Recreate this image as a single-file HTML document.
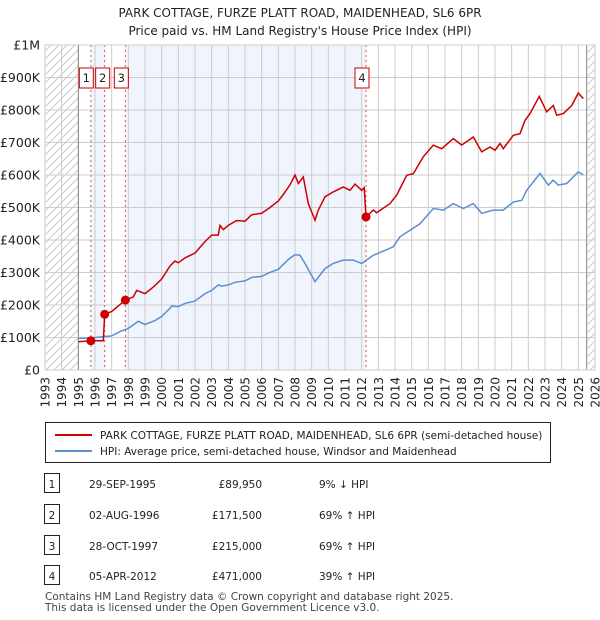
<!DOCTYPE html>
<html><head><meta charset="utf-8"><style>
body{margin:0;background:#fff;font-family:"Liberation Sans","DejaVu Sans",sans-serif;}
#wrap{position:relative;width:600px;height:620px;overflow:hidden}
svg text{font-family:"DejaVu Sans","Liberation Sans",sans-serif}
</style></head><body><div id="wrap">
<svg id="chart" width="600" height="620"></svg>
</div>
<script>
const hpiYears=[1995,1996,1997,1997.5,1998,1998.6,1999,1999.6,2000,2000.5,2000.6,2001,2001.4,2002,2002.6,2003,2003.4,2003.6,2004,2004.4,2005,2005.4,2006,2006.4,2007,2007.4,2007.6,2008,2008.3,2008.6,2009.2,2009.8,2010.3,2010.9,2011.5,2012,2012.7,2013.9,2014.3,2014.9,2015.5,2016.3,2016.9,2017.5,2018.1,2018.7,2019.2,2019.9,2020.5,2021.1,2021.6,2021.9,2022.7,2023.2,2023.5,2023.8,2024.3,2025,2025.3];
const hpiValues=[97,100,105,118,128,150,140,152,165,190,197,195,205,212,235,245,262,258,262,270,274,285,288,298,310,330,340,355,353,328,272,312,328,338,338,328,353,379,410,430,450,497,492,512,497,512,482,492,492,517,522,553,605,569,584,569,574,610,600];
const priceYears=[1995,1995.75,1996.5,1996.58,1997,1997.82,1998.3,1998.5,1999,1999.5,2000,2000.5,2000.8,2001,2001.4,2002,2002.6,2003,2003.4,2003.5,2003.7,2004,2004.5,2005,2005.4,2006,2006.5,2007,2007.3,2007.7,2008,2008.2,2008.5,2008.8,2009.2,2009.4,2009.8,2010.3,2010.9,2011.3,2011.6,2012,2012.15,2012.26,2012.7,2012.9,2013.7,2014.1,2014.7,2015.1,2015.7,2016.3,2016.8,2017.5,2018,2018.7,2019.2,2019.7,2020,2020.3,2020.5,2021.1,2021.5,2021.8,2022.1,2022.66,2023.1,2023.5,2023.7,2024.1,2024.6,2025,2025.3];
const priceValues=[87,89.95,90,171.5,180,215,225,245,235,255,280,320,335,330,345,360,395,415,415,445,432,445,460,458,478,482,500,520,540,570,600,574,594,512,461,492,533,548,563,553,572,553,561,471,492,484,512,538,599,604,656,692,681,712,692,717,671,686,676,697,681,722,727,768,789,842,794,814,784,789,814,852,835];
const saleLabels=["1","2","3","4"];
const saleYears=[1995.75,1996.58,1997.82,2012.26];
const saleValues=[89.95,171.5,215,471];
const yTicks=[0,100,200,300,400,500,600,700,800,900,1000];
const yTickLabels=["£0","£100K","£200K","£300K","£400K","£500K","£600K","£700K","£800K","£900K","£1M"];
const xTicks=[1993,1994,1995,1996,1997,1998,1999,2000,2001,2002,2003,2004,2005,2006,2007,2008,2009,2010,2011,2012,2013,2014,2015,2016,2017,2018,2019,2020,2021,2022,2023,2024,2025,2026];

const L=45,R=595,T=45,B=370;
const x=y=>L+(y-1993)/(2026-1993)*(R-L);
const yv=v=>B-v/1000*(B-T);
const svg=document.getElementById('chart');
const NS='http://www.w3.org/2000/svg';
function mk(tag,attrs,parent){const e=document.createElementNS(NS,tag);for(const k in attrs)e.setAttribute(k,attrs[k]);(parent||svg).appendChild(e);return e;}
function txt(s,attrs,parent){const e=mk('text',attrs,parent);e.textContent=s;return e;}

const defs=mk('defs',{});
const pat=mk('pattern',{id:'hatch',width:8,height:8,patternUnits:'userSpaceOnUse'},defs);
mk('path',{d:'M0,8 L8,0 M-2,2 L2,-2 M6,10 L10,6',stroke:'#ccc','stroke-width':1},pat);

let t;
t=txt('PARK COTTAGE, FURZE PLATT ROAD, MAIDENHEAD, SL6 6PR',{x:300,y:17,'text-anchor':'middle','font-size':12,fill:'#222'});

t=txt("Price paid vs. HM Land Registry's House Price Index (HPI)",{x:300,y:35,'text-anchor':'middle','font-size':12,fill:'#222'});


let r;
r=mk('rect',{x:L,y:T,width:x(1995)-L,height:B-T,fill:'url(#hatch)'});

r=mk('rect',{x:x(2025.5),y:T,width:R-x(2025.5),height:B-T,fill:'url(#hatch)'});

r=mk('rect',{x:x(saleYears[0]),y:T,width:x(saleYears[1])-x(saleYears[0]),height:B-T,fill:'#f0f4fd'});

r=mk('rect',{x:x(saleYears[2]),y:T,width:x(saleYears[3])-x(saleYears[2]),height:B-T,fill:'#f0f4fd'});


xTicks.forEach(yr=>{const g=mk('line',{x1:x(yr),x2:x(yr),y1:T,y2:B,stroke:'#ccc','stroke-width':1});

const lb=txt(String(yr),{transform:`translate(${x(yr)+4.5},${B+7}) rotate(-90)`,'text-anchor':'end','font-size':12,fill:'#222'});
});
yTicks.forEach((v,i)=>{const g=mk('line',{x1:L,x2:R,y1:yv(v),y2:yv(v),stroke:'#ccc','stroke-width':1});

const lb=txt(yTickLabels[i],{x:L-5,y:yv(v)+4.5,'text-anchor':'end','font-size':12.5,fill:'#222'});
});
mk('line',{x1:x(1995),x2:x(1995),y1:T,y2:B,stroke:'#888','stroke-width':1});
mk('line',{x1:x(2025.5),x2:x(2025.5),y1:T,y2:B,stroke:'#888','stroke-width':1});

const boxOffsets=[-4.5,-2,-4,-4];
saleYears.forEach((sy,i)=>{const l=mk('line',{x1:x(sy),x2:x(sy),y1:T,y2:B,stroke:'#e05050','stroke-width':1,'stroke-dasharray':'2,3'});

const cx=x(sy)+boxOffsets[i];
const b=mk('rect',{x:cx-7,y:68,width:14,height:20,fill:'#fff',stroke:'#c00','stroke-width':1});

const lb=txt(saleLabels[i],{x:cx,y:82,'text-anchor':'middle','font-size':11.5,fill:'#222'});
});

function path(xs,vs){return xs.map((a,i)=>(i?'L':'M')+x(a).toFixed(1)+','+yv(vs[i]).toFixed(1)).join(' ');}
let p=mk('path',{d:path(hpiYears,hpiValues),fill:'none',stroke:'#5b8fd0','stroke-width':1.5});

p=mk('path',{d:path(priceYears,priceValues),fill:'none',stroke:'#cc0000','stroke-width':1.5});

saleYears.forEach((sy,i)=>{const c=mk('circle',{cx:x(sy),cy:yv(saleValues[i]),r:4.5,fill:'#cc0000'});
});

mk('rect',{x:L,y:T,width:R-L,height:B-T,fill:'none',stroke:'#ccc','stroke-width':1});

const lg=mk('g',{});
mk('rect',{x:45.5,y:422.5,width:505,height:40,fill:'#fff',stroke:'#222','stroke-width':1},lg);
mk('line',{x1:55,x2:92,y1:435,y2:435,stroke:'#cc0000','stroke-width':2},lg);
t=txt('PARK COTTAGE, FURZE PLATT ROAD, MAIDENHEAD, SL6 6PR (semi-detached house)',{x:100,y:439,'font-size':10.5,fill:'#222'},lg);

mk('line',{x1:55,x2:92,y1:451,y2:451,stroke:'#5b8fd0','stroke-width':2},lg);
t=txt('HPI: Average price, semi-detached house, Windsor and Maidenhead',{x:100,y:455,'font-size':10.5,fill:'#222'},lg);


const rows=[["1","29-SEP-1995","£89,950","9% \u2193 HPI"],["2","02-AUG-1996","£171,500","69% \u2191 HPI"],["3","28-OCT-1997","£215,000","69% \u2191 HPI"],["4","05-APR-2012","£471,000","39% \u2191 HPI"]];
const ry=[484,515,546,576];
rows.forEach((rw,i)=>{const g=mk('g',{});
mk('rect',{x:44.5,y:ry[i]-10.5,width:15,height:19,fill:'#fff',stroke:'#222','stroke-width':1},g);
txt(rw[0],{x:52,y:ry[i]+4,'text-anchor':'middle','font-size':10.5,fill:'#222'},g);
txt(rw[1],{x:89,y:ry[i]+4,'font-size':10.5,fill:'#222'},g);
txt(rw[2],{x:262,y:ry[i]+4,'text-anchor':'end','font-size':10.5,fill:'#222'},g);
txt(rw[3],{x:319,y:ry[i]+4,'font-size':10.5,fill:'#222'},g);});

t=txt('Contains HM Land Registry data \u00a9 Crown copyright and database right 2025.',{x:45,y:600,'font-size':10.5,fill:'#444'});

t=txt('This data is licensed under the Open Government Licence v3.0.',{x:45,y:611,'font-size':10.5,fill:'#444'});

</script></body></html>
